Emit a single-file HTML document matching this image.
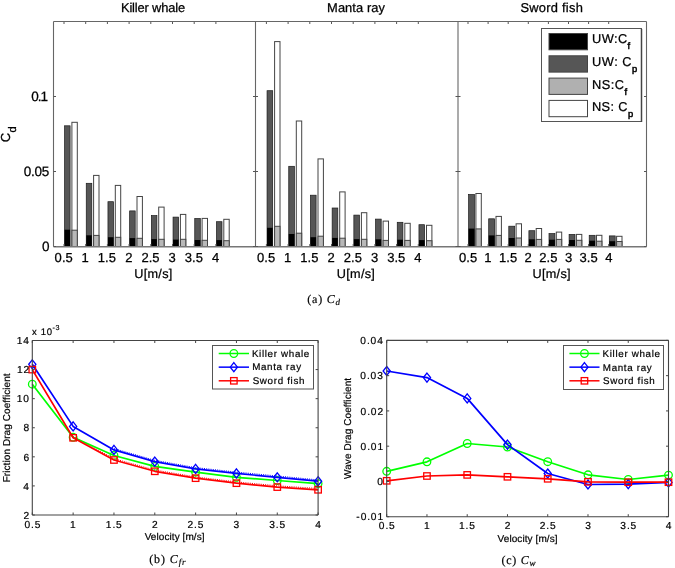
<!DOCTYPE html>
<html><head><meta charset="utf-8"><title>Figure</title>
<style>
html,body{margin:0;padding:0;background:#fff;}
body{width:675px;height:568px;overflow:hidden;font-family:"Liberation Sans", sans-serif;}
svg{display:block;will-change:transform;}
text{text-rendering:geometricPrecision;fill:#000;stroke:#000;stroke-width:0.25px;}
text.s{stroke-width:0.2px;}
text.n{stroke-width:0.18px;}
</style></head>
<body>
<svg width="675" height="568" viewBox="0 0 675 568">
<rect x="0" y="0" width="675" height="568" fill="#fff"/>
<rect x="64.55" y="125.80" width="5.55" height="120.70" fill="#565656" stroke="#1a1a1a" stroke-width="0.7"/>
<rect x="64.55" y="229.70" width="5.55" height="16.80" fill="#000" stroke="none" stroke-width="1"/>
<rect x="71.90" y="122.30" width="5.40" height="124.20" fill="#fff" stroke="#444" stroke-width="1"/>
<rect x="71.90" y="230.20" width="5.40" height="16.30" fill="#b8b8b8" stroke="#444" stroke-width="1"/>
<line x1="64.00" y1="21.50" x2="64.00" y2="24.00" stroke="#555" stroke-width="1" />
<line x1="64.00" y1="246.50" x2="64.00" y2="244.00" stroke="#555" stroke-width="1" />
<g transform="translate(63.725,262.000) scale(1.0000)"><text id="t_ax00" x="0" y="0" font-size="13" text-anchor="middle" font-family='"Liberation Sans", sans-serif' letter-spacing="0.050" >0.5</text></g>
<rect x="86.25" y="183.30" width="5.55" height="63.20" fill="#565656" stroke="#1a1a1a" stroke-width="0.7"/>
<rect x="86.25" y="235.30" width="5.55" height="11.20" fill="#000" stroke="none" stroke-width="1"/>
<rect x="93.60" y="175.40" width="5.40" height="71.10" fill="#fff" stroke="#444" stroke-width="1"/>
<rect x="93.60" y="235.40" width="5.40" height="11.10" fill="#b8b8b8" stroke="#444" stroke-width="1"/>
<line x1="85.70" y1="21.50" x2="85.70" y2="24.00" stroke="#555" stroke-width="1" />
<line x1="85.70" y1="246.50" x2="85.70" y2="244.00" stroke="#555" stroke-width="1" />
<g transform="translate(85.200,262.000) scale(1.0000)"><text id="t_ax01" x="0" y="0" font-size="13" text-anchor="middle" font-family='"Liberation Sans", sans-serif' letter-spacing="0.050" >1</text></g>
<rect x="107.95" y="201.70" width="5.55" height="44.80" fill="#565656" stroke="#1a1a1a" stroke-width="0.7"/>
<rect x="107.95" y="237.20" width="5.55" height="9.30" fill="#000" stroke="none" stroke-width="1"/>
<rect x="115.30" y="185.40" width="5.40" height="61.10" fill="#fff" stroke="#444" stroke-width="1"/>
<rect x="115.30" y="237.30" width="5.40" height="9.20" fill="#b8b8b8" stroke="#444" stroke-width="1"/>
<line x1="107.40" y1="21.50" x2="107.40" y2="24.00" stroke="#555" stroke-width="1" />
<line x1="107.40" y1="246.50" x2="107.40" y2="244.00" stroke="#555" stroke-width="1" />
<g transform="translate(106.925,262.000) scale(1.0000)"><text id="t_ax02" x="0" y="0" font-size="13" text-anchor="middle" font-family='"Liberation Sans", sans-serif' letter-spacing="0.050" >1.5</text></g>
<rect x="129.65" y="210.90" width="5.55" height="35.60" fill="#565656" stroke="#1a1a1a" stroke-width="0.7"/>
<rect x="129.65" y="238.10" width="5.55" height="8.40" fill="#000" stroke="none" stroke-width="1"/>
<rect x="137.00" y="196.50" width="5.40" height="50.00" fill="#fff" stroke="#444" stroke-width="1"/>
<rect x="137.00" y="238.30" width="5.40" height="8.20" fill="#b8b8b8" stroke="#444" stroke-width="1"/>
<line x1="129.10" y1="21.50" x2="129.10" y2="24.00" stroke="#555" stroke-width="1" />
<line x1="129.10" y1="246.50" x2="129.10" y2="244.00" stroke="#555" stroke-width="1" />
<g transform="translate(128.900,262.000) scale(1.0000)"><text id="t_ax03" x="0" y="0" font-size="13" text-anchor="middle" font-family='"Liberation Sans", sans-serif' letter-spacing="0.050" >2</text></g>
<rect x="151.35" y="215.60" width="5.55" height="30.90" fill="#565656" stroke="#1a1a1a" stroke-width="0.7"/>
<rect x="151.35" y="239.10" width="5.55" height="7.40" fill="#000" stroke="none" stroke-width="1"/>
<rect x="158.70" y="207.10" width="5.40" height="39.40" fill="#fff" stroke="#444" stroke-width="1"/>
<rect x="158.70" y="239.30" width="5.40" height="7.20" fill="#b8b8b8" stroke="#444" stroke-width="1"/>
<line x1="150.80" y1="21.50" x2="150.80" y2="24.00" stroke="#555" stroke-width="1" />
<line x1="150.80" y1="246.50" x2="150.80" y2="244.00" stroke="#555" stroke-width="1" />
<g transform="translate(150.500,262.000) scale(1.0000)"><text id="t_ax04" x="0" y="0" font-size="13" text-anchor="middle" font-family='"Liberation Sans", sans-serif' letter-spacing="0.050" >2.5</text></g>
<rect x="173.05" y="217.10" width="5.55" height="29.40" fill="#565656" stroke="#1a1a1a" stroke-width="0.7"/>
<rect x="173.05" y="239.60" width="5.55" height="6.90" fill="#000" stroke="none" stroke-width="1"/>
<rect x="180.40" y="214.40" width="5.40" height="32.10" fill="#fff" stroke="#444" stroke-width="1"/>
<rect x="180.40" y="239.30" width="5.40" height="7.20" fill="#b8b8b8" stroke="#444" stroke-width="1"/>
<line x1="172.50" y1="21.50" x2="172.50" y2="24.00" stroke="#555" stroke-width="1" />
<line x1="172.50" y1="246.50" x2="172.50" y2="244.00" stroke="#555" stroke-width="1" />
<g transform="translate(172.225,262.000) scale(1.0000)"><text id="t_ax05" x="0" y="0" font-size="13" text-anchor="middle" font-family='"Liberation Sans", sans-serif' letter-spacing="0.050" >3</text></g>
<rect x="194.75" y="218.50" width="5.55" height="28.00" fill="#565656" stroke="#1a1a1a" stroke-width="0.7"/>
<rect x="194.75" y="240.00" width="5.55" height="6.50" fill="#000" stroke="none" stroke-width="1"/>
<rect x="202.10" y="218.40" width="5.40" height="28.10" fill="#fff" stroke="#444" stroke-width="1"/>
<rect x="202.10" y="240.30" width="5.40" height="6.20" fill="#b8b8b8" stroke="#444" stroke-width="1"/>
<line x1="194.20" y1="21.50" x2="194.20" y2="24.00" stroke="#555" stroke-width="1" />
<line x1="194.20" y1="246.50" x2="194.20" y2="244.00" stroke="#555" stroke-width="1" />
<g transform="translate(193.950,262.000) scale(1.0000)"><text id="t_ax06" x="0" y="0" font-size="13" text-anchor="middle" font-family='"Liberation Sans", sans-serif' letter-spacing="0.050" >3.5</text></g>
<rect x="216.45" y="221.70" width="5.55" height="24.80" fill="#565656" stroke="#1a1a1a" stroke-width="0.7"/>
<rect x="216.45" y="240.10" width="5.55" height="6.40" fill="#000" stroke="none" stroke-width="1"/>
<rect x="223.80" y="219.30" width="5.40" height="27.20" fill="#fff" stroke="#444" stroke-width="1"/>
<rect x="223.80" y="240.70" width="5.40" height="5.80" fill="#b8b8b8" stroke="#444" stroke-width="1"/>
<line x1="215.90" y1="21.50" x2="215.90" y2="24.00" stroke="#555" stroke-width="1" />
<line x1="215.90" y1="246.50" x2="215.90" y2="244.00" stroke="#555" stroke-width="1" />
<g transform="translate(215.675,262.000) scale(1.0000)"><text id="t_ax07" x="0" y="0" font-size="13" text-anchor="middle" font-family='"Liberation Sans", sans-serif' letter-spacing="0.050" >4</text></g>
<g transform="translate(152.950,11.800) scale(1.0300)"><text id="t_title0" x="0" y="0" font-size="12.5" text-anchor="middle" font-family='"Liberation Sans", sans-serif' letter-spacing="-0.152" >Killer whale</text></g>
<g transform="translate(153.450,278.350) scale(0.9757)"><text id="t_U0" x="0" y="0" font-size="13" text-anchor="middle" font-family='"Liberation Sans", sans-serif' letter-spacing="0.281" >U[m/s]</text></g>
<rect x="267.05" y="90.70" width="5.65" height="155.80" fill="#565656" stroke="#1a1a1a" stroke-width="0.7"/>
<rect x="267.05" y="227.80" width="5.65" height="18.70" fill="#000" stroke="none" stroke-width="1"/>
<rect x="274.60" y="41.60" width="5.40" height="204.90" fill="#fff" stroke="#444" stroke-width="1"/>
<rect x="274.60" y="226.30" width="5.40" height="20.20" fill="#b8b8b8" stroke="#444" stroke-width="1"/>
<line x1="266.40" y1="21.50" x2="266.40" y2="24.00" stroke="#555" stroke-width="1" />
<line x1="266.40" y1="246.50" x2="266.40" y2="244.00" stroke="#555" stroke-width="1" />
<g transform="translate(266.175,262.000) scale(1.0000)"><text id="t_ax10" x="0" y="0" font-size="13" text-anchor="middle" font-family='"Liberation Sans", sans-serif' letter-spacing="0.050" >0.5</text></g>
<rect x="288.75" y="166.30" width="5.65" height="80.20" fill="#565656" stroke="#1a1a1a" stroke-width="0.7"/>
<rect x="288.75" y="234.00" width="5.65" height="12.50" fill="#000" stroke="none" stroke-width="1"/>
<rect x="296.30" y="121.00" width="5.40" height="125.50" fill="#fff" stroke="#444" stroke-width="1"/>
<rect x="296.30" y="233.20" width="5.40" height="13.30" fill="#b8b8b8" stroke="#444" stroke-width="1"/>
<line x1="288.10" y1="21.50" x2="288.10" y2="24.00" stroke="#555" stroke-width="1" />
<line x1="288.10" y1="246.50" x2="288.10" y2="244.00" stroke="#555" stroke-width="1" />
<g transform="translate(287.650,262.000) scale(1.0000)"><text id="t_ax11" x="0" y="0" font-size="13" text-anchor="middle" font-family='"Liberation Sans", sans-serif' letter-spacing="0.050" >1</text></g>
<rect x="310.45" y="195.20" width="5.65" height="51.30" fill="#565656" stroke="#1a1a1a" stroke-width="0.7"/>
<rect x="310.45" y="237.20" width="5.65" height="9.30" fill="#000" stroke="none" stroke-width="1"/>
<rect x="318.00" y="158.90" width="5.40" height="87.60" fill="#fff" stroke="#444" stroke-width="1"/>
<rect x="318.00" y="236.20" width="5.40" height="10.30" fill="#b8b8b8" stroke="#444" stroke-width="1"/>
<line x1="309.80" y1="21.50" x2="309.80" y2="24.00" stroke="#555" stroke-width="1" />
<line x1="309.80" y1="246.50" x2="309.80" y2="244.00" stroke="#555" stroke-width="1" />
<g transform="translate(309.375,262.000) scale(1.0000)"><text id="t_ax12" x="0" y="0" font-size="13" text-anchor="middle" font-family='"Liberation Sans", sans-serif' letter-spacing="0.050" >1.5</text></g>
<rect x="332.15" y="208.00" width="5.65" height="38.50" fill="#565656" stroke="#1a1a1a" stroke-width="0.7"/>
<rect x="332.15" y="237.90" width="5.65" height="8.60" fill="#000" stroke="none" stroke-width="1"/>
<rect x="339.70" y="191.90" width="5.40" height="54.60" fill="#fff" stroke="#444" stroke-width="1"/>
<rect x="339.70" y="238.20" width="5.40" height="8.30" fill="#b8b8b8" stroke="#444" stroke-width="1"/>
<line x1="331.50" y1="21.50" x2="331.50" y2="24.00" stroke="#555" stroke-width="1" />
<line x1="331.50" y1="246.50" x2="331.50" y2="244.00" stroke="#555" stroke-width="1" />
<g transform="translate(331.225,262.000) scale(1.0000)"><text id="t_ax13" x="0" y="0" font-size="13" text-anchor="middle" font-family='"Liberation Sans", sans-serif' letter-spacing="0.050" >2</text></g>
<rect x="353.85" y="215.10" width="5.65" height="31.40" fill="#565656" stroke="#1a1a1a" stroke-width="0.7"/>
<rect x="353.85" y="239.10" width="5.65" height="7.40" fill="#000" stroke="none" stroke-width="1"/>
<rect x="361.40" y="212.70" width="5.40" height="33.80" fill="#fff" stroke="#444" stroke-width="1"/>
<rect x="361.40" y="239.30" width="5.40" height="7.20" fill="#b8b8b8" stroke="#444" stroke-width="1"/>
<line x1="353.20" y1="21.50" x2="353.20" y2="24.00" stroke="#555" stroke-width="1" />
<line x1="353.20" y1="246.50" x2="353.20" y2="244.00" stroke="#555" stroke-width="1" />
<g transform="translate(352.950,262.000) scale(1.0000)"><text id="t_ax14" x="0" y="0" font-size="13" text-anchor="middle" font-family='"Liberation Sans", sans-serif' letter-spacing="0.050" >2.5</text></g>
<rect x="375.55" y="219.10" width="5.65" height="27.40" fill="#565656" stroke="#1a1a1a" stroke-width="0.7"/>
<rect x="375.55" y="239.30" width="5.65" height="7.20" fill="#000" stroke="none" stroke-width="1"/>
<rect x="383.10" y="221.10" width="5.40" height="25.40" fill="#fff" stroke="#444" stroke-width="1"/>
<rect x="383.10" y="240.40" width="5.40" height="6.10" fill="#b8b8b8" stroke="#444" stroke-width="1"/>
<line x1="374.90" y1="21.50" x2="374.90" y2="24.00" stroke="#555" stroke-width="1" />
<line x1="374.90" y1="246.50" x2="374.90" y2="244.00" stroke="#555" stroke-width="1" />
<g transform="translate(374.675,262.000) scale(1.0000)"><text id="t_ax15" x="0" y="0" font-size="13" text-anchor="middle" font-family='"Liberation Sans", sans-serif' letter-spacing="0.050" >3</text></g>
<rect x="397.25" y="222.30" width="5.65" height="24.20" fill="#565656" stroke="#1a1a1a" stroke-width="0.7"/>
<rect x="397.25" y="239.70" width="5.65" height="6.80" fill="#000" stroke="none" stroke-width="1"/>
<rect x="404.80" y="223.30" width="5.40" height="23.20" fill="#fff" stroke="#444" stroke-width="1"/>
<rect x="404.80" y="240.40" width="5.40" height="6.10" fill="#b8b8b8" stroke="#444" stroke-width="1"/>
<line x1="396.60" y1="21.50" x2="396.60" y2="24.00" stroke="#555" stroke-width="1" />
<line x1="396.60" y1="246.50" x2="396.60" y2="244.00" stroke="#555" stroke-width="1" />
<g transform="translate(396.275,262.000) scale(1.0000)"><text id="t_ax16" x="0" y="0" font-size="13" text-anchor="middle" font-family='"Liberation Sans", sans-serif' letter-spacing="0.050" >3.5</text></g>
<rect x="418.95" y="224.70" width="5.65" height="21.80" fill="#565656" stroke="#1a1a1a" stroke-width="0.7"/>
<rect x="418.95" y="240.10" width="5.65" height="6.40" fill="#000" stroke="none" stroke-width="1"/>
<rect x="426.50" y="225.30" width="5.40" height="21.20" fill="#fff" stroke="#444" stroke-width="1"/>
<rect x="426.50" y="240.70" width="5.40" height="5.80" fill="#b8b8b8" stroke="#444" stroke-width="1"/>
<line x1="418.30" y1="21.50" x2="418.30" y2="24.00" stroke="#555" stroke-width="1" />
<line x1="418.30" y1="246.50" x2="418.30" y2="244.00" stroke="#555" stroke-width="1" />
<g transform="translate(418.000,262.000) scale(1.0000)"><text id="t_ax17" x="0" y="0" font-size="13" text-anchor="middle" font-family='"Liberation Sans", sans-serif' letter-spacing="0.050" >4</text></g>
<g transform="translate(356.050,11.650) scale(1.0300)"><text id="t_title1" x="0" y="0" font-size="12.5" text-anchor="middle" font-family='"Liberation Sans", sans-serif' letter-spacing="0.073" >Manta ray</text></g>
<g transform="translate(355.975,278.350) scale(0.9757)"><text id="t_U1" x="0" y="0" font-size="13" text-anchor="middle" font-family='"Liberation Sans", sans-serif' letter-spacing="0.281" >U[m/s]</text></g>
<rect x="468.60" y="194.50" width="5.90" height="52.00" fill="#565656" stroke="#1a1a1a" stroke-width="0.7"/>
<rect x="468.60" y="228.60" width="5.90" height="17.90" fill="#000" stroke="none" stroke-width="1"/>
<rect x="475.90" y="193.50" width="5.40" height="53.00" fill="#fff" stroke="#444" stroke-width="1"/>
<rect x="475.90" y="228.90" width="5.40" height="17.60" fill="#b8b8b8" stroke="#444" stroke-width="1"/>
<line x1="468.00" y1="21.50" x2="468.00" y2="24.00" stroke="#555" stroke-width="1" />
<line x1="468.00" y1="246.50" x2="468.00" y2="244.00" stroke="#555" stroke-width="1" />
<g transform="translate(468.075,262.000) scale(1.0000)"><text id="t_ax20" x="0" y="0" font-size="13" text-anchor="middle" font-family='"Liberation Sans", sans-serif' letter-spacing="0.050" >0.5</text></g>
<rect x="488.70" y="218.80" width="5.90" height="27.70" fill="#565656" stroke="#1a1a1a" stroke-width="0.7"/>
<rect x="488.70" y="235.40" width="5.90" height="11.10" fill="#000" stroke="none" stroke-width="1"/>
<rect x="496.00" y="216.40" width="5.40" height="30.10" fill="#fff" stroke="#444" stroke-width="1"/>
<rect x="496.00" y="235.40" width="5.40" height="11.10" fill="#b8b8b8" stroke="#444" stroke-width="1"/>
<line x1="488.10" y1="21.50" x2="488.10" y2="24.00" stroke="#555" stroke-width="1" />
<line x1="488.10" y1="246.50" x2="488.10" y2="244.00" stroke="#555" stroke-width="1" />
<g transform="translate(488.000,262.000) scale(1.0000)"><text id="t_ax21" x="0" y="0" font-size="13" text-anchor="middle" font-family='"Liberation Sans", sans-serif' letter-spacing="0.050" >1</text></g>
<rect x="508.80" y="226.20" width="5.90" height="20.30" fill="#565656" stroke="#1a1a1a" stroke-width="0.7"/>
<rect x="508.80" y="238.00" width="5.90" height="8.50" fill="#000" stroke="none" stroke-width="1"/>
<rect x="516.10" y="223.80" width="5.40" height="22.70" fill="#fff" stroke="#444" stroke-width="1"/>
<rect x="516.10" y="238.00" width="5.40" height="8.50" fill="#b8b8b8" stroke="#444" stroke-width="1"/>
<line x1="508.20" y1="21.50" x2="508.20" y2="24.00" stroke="#555" stroke-width="1" />
<line x1="508.20" y1="246.50" x2="508.20" y2="244.00" stroke="#555" stroke-width="1" />
<g transform="translate(508.050,262.000) scale(1.0000)"><text id="t_ax22" x="0" y="0" font-size="13" text-anchor="middle" font-family='"Liberation Sans", sans-serif' letter-spacing="0.050" >1.5</text></g>
<rect x="528.90" y="230.70" width="5.90" height="15.80" fill="#565656" stroke="#1a1a1a" stroke-width="0.7"/>
<rect x="528.90" y="239.30" width="5.90" height="7.20" fill="#000" stroke="none" stroke-width="1"/>
<rect x="536.20" y="228.50" width="5.40" height="18.00" fill="#fff" stroke="#444" stroke-width="1"/>
<rect x="536.20" y="239.40" width="5.40" height="7.10" fill="#b8b8b8" stroke="#444" stroke-width="1"/>
<line x1="528.30" y1="21.50" x2="528.30" y2="24.00" stroke="#555" stroke-width="1" />
<line x1="528.30" y1="246.50" x2="528.30" y2="244.00" stroke="#555" stroke-width="1" />
<g transform="translate(528.225,262.000) scale(1.0000)"><text id="t_ax23" x="0" y="0" font-size="13" text-anchor="middle" font-family='"Liberation Sans", sans-serif' letter-spacing="0.050" >2</text></g>
<rect x="549.00" y="233.60" width="5.90" height="12.90" fill="#565656" stroke="#1a1a1a" stroke-width="0.7"/>
<rect x="549.00" y="239.70" width="5.90" height="6.80" fill="#000" stroke="none" stroke-width="1"/>
<rect x="556.30" y="232.10" width="5.40" height="14.40" fill="#fff" stroke="#444" stroke-width="1"/>
<rect x="556.30" y="239.40" width="5.40" height="7.10" fill="#b8b8b8" stroke="#444" stroke-width="1"/>
<line x1="548.40" y1="21.50" x2="548.40" y2="24.00" stroke="#555" stroke-width="1" />
<line x1="548.40" y1="246.50" x2="548.40" y2="244.00" stroke="#555" stroke-width="1" />
<g transform="translate(548.400,262.000) scale(1.0000)"><text id="t_ax24" x="0" y="0" font-size="13" text-anchor="middle" font-family='"Liberation Sans", sans-serif' letter-spacing="0.050" >2.5</text></g>
<rect x="569.10" y="234.40" width="5.90" height="12.10" fill="#565656" stroke="#1a1a1a" stroke-width="0.7"/>
<rect x="569.10" y="240.00" width="5.90" height="6.50" fill="#000" stroke="none" stroke-width="1"/>
<rect x="576.40" y="234.40" width="5.40" height="12.10" fill="#fff" stroke="#444" stroke-width="1"/>
<rect x="576.40" y="240.30" width="5.40" height="6.20" fill="#b8b8b8" stroke="#444" stroke-width="1"/>
<line x1="568.50" y1="21.50" x2="568.50" y2="24.00" stroke="#555" stroke-width="1" />
<line x1="568.50" y1="246.50" x2="568.50" y2="244.00" stroke="#555" stroke-width="1" />
<g transform="translate(568.575,262.000) scale(1.0000)"><text id="t_ax25" x="0" y="0" font-size="13" text-anchor="middle" font-family='"Liberation Sans", sans-serif' letter-spacing="0.050" >3</text></g>
<rect x="589.20" y="235.30" width="5.90" height="11.20" fill="#565656" stroke="#1a1a1a" stroke-width="0.7"/>
<rect x="589.20" y="240.70" width="5.90" height="5.80" fill="#000" stroke="none" stroke-width="1"/>
<rect x="596.50" y="235.30" width="5.40" height="11.20" fill="#fff" stroke="#444" stroke-width="1"/>
<rect x="596.50" y="241.20" width="5.40" height="5.30" fill="#b8b8b8" stroke="#444" stroke-width="1"/>
<line x1="588.60" y1="21.50" x2="588.60" y2="24.00" stroke="#555" stroke-width="1" />
<line x1="588.60" y1="246.50" x2="588.60" y2="244.00" stroke="#555" stroke-width="1" />
<g transform="translate(588.625,262.000) scale(1.0000)"><text id="t_ax26" x="0" y="0" font-size="13" text-anchor="middle" font-family='"Liberation Sans", sans-serif' letter-spacing="0.050" >3.5</text></g>
<rect x="609.30" y="235.90" width="5.90" height="10.60" fill="#565656" stroke="#1a1a1a" stroke-width="0.7"/>
<rect x="609.30" y="241.20" width="5.90" height="5.30" fill="#000" stroke="none" stroke-width="1"/>
<rect x="616.60" y="236.30" width="5.40" height="10.20" fill="#fff" stroke="#444" stroke-width="1"/>
<rect x="616.60" y="241.50" width="5.40" height="5.00" fill="#b8b8b8" stroke="#444" stroke-width="1"/>
<line x1="608.70" y1="21.50" x2="608.70" y2="24.00" stroke="#555" stroke-width="1" />
<line x1="608.70" y1="246.50" x2="608.70" y2="244.00" stroke="#555" stroke-width="1" />
<g transform="translate(608.800,262.000) scale(1.0000)"><text id="t_ax27" x="0" y="0" font-size="13" text-anchor="middle" font-family='"Liberation Sans", sans-serif' letter-spacing="0.050" >4</text></g>
<g transform="translate(551.775,11.800) scale(1.0300)"><text id="t_title2" x="0" y="0" font-size="12.5" text-anchor="middle" font-family='"Liberation Sans", sans-serif' letter-spacing="0.241" >Sword fish</text></g>
<g transform="translate(551.700,278.350) scale(0.9757)"><text id="t_U2" x="0" y="0" font-size="13" text-anchor="middle" font-family='"Liberation Sans", sans-serif' letter-spacing="0.281" >U[m/s]</text></g>
<line x1="53.50" y1="21.50" x2="646.50" y2="21.50" stroke="#666" stroke-width="1.1" />
<line x1="53.50" y1="246.75" x2="646.50" y2="246.75" stroke="#777" stroke-width="1.3" />
<line x1="53.50" y1="21.50" x2="53.50" y2="246.50" stroke="#666" stroke-width="1.1" />
<line x1="255.50" y1="21.50" x2="255.50" y2="246.50" stroke="#666" stroke-width="1.1" />
<line x1="458.00" y1="21.50" x2="458.00" y2="246.50" stroke="#666" stroke-width="1.1" />
<line x1="646.50" y1="21.50" x2="646.50" y2="246.50" stroke="#666" stroke-width="1.1" />
<line x1="53.50" y1="246.50" x2="56.00" y2="246.50" stroke="#555" stroke-width="1" />
<line x1="255.50" y1="246.50" x2="253.00" y2="246.50" stroke="#555" stroke-width="1" />
<line x1="255.50" y1="246.50" x2="258.00" y2="246.50" stroke="#555" stroke-width="1" />
<line x1="458.00" y1="246.50" x2="455.50" y2="246.50" stroke="#555" stroke-width="1" />
<line x1="458.00" y1="246.50" x2="460.50" y2="246.50" stroke="#555" stroke-width="1" />
<line x1="646.50" y1="246.50" x2="644.00" y2="246.50" stroke="#555" stroke-width="1" />
<g transform="translate(49.450,251.300) scale(1.0400)"><text id="t_ay0" x="0" y="0" font-size="13" text-anchor="end" font-family='"Liberation Sans", sans-serif' >0</text></g>
<line x1="53.50" y1="171.50" x2="56.00" y2="171.50" stroke="#555" stroke-width="1" />
<line x1="255.50" y1="171.50" x2="253.00" y2="171.50" stroke="#555" stroke-width="1" />
<line x1="255.50" y1="171.50" x2="258.00" y2="171.50" stroke="#555" stroke-width="1" />
<line x1="458.00" y1="171.50" x2="455.50" y2="171.50" stroke="#555" stroke-width="1" />
<line x1="458.00" y1="171.50" x2="460.50" y2="171.50" stroke="#555" stroke-width="1" />
<line x1="646.50" y1="171.50" x2="644.00" y2="171.50" stroke="#555" stroke-width="1" />
<g transform="translate(49.175,175.650) scale(1.0400)"><text id="t_ay1" x="0" y="0" font-size="13" text-anchor="end" font-family='"Liberation Sans", sans-serif' letter-spacing="-0.218" >0.05</text></g>
<line x1="53.50" y1="96.50" x2="56.00" y2="96.50" stroke="#555" stroke-width="1" />
<line x1="255.50" y1="96.50" x2="253.00" y2="96.50" stroke="#555" stroke-width="1" />
<line x1="255.50" y1="96.50" x2="258.00" y2="96.50" stroke="#555" stroke-width="1" />
<line x1="458.00" y1="96.50" x2="455.50" y2="96.50" stroke="#555" stroke-width="1" />
<line x1="458.00" y1="96.50" x2="460.50" y2="96.50" stroke="#555" stroke-width="1" />
<line x1="646.50" y1="96.50" x2="644.00" y2="96.50" stroke="#555" stroke-width="1" />
<g transform="translate(46.950,101.250) scale(1.0400)"><text id="t_ay2" x="0" y="0" font-size="13" text-anchor="end" font-family='"Liberation Sans", sans-serif' letter-spacing="-1.005" >0.1</text></g>
<g transform="translate(10.300,142.225) scale(1.0066) rotate(-90)"><text id="t_Cd" x="0" y="0" font-size="13" text-anchor="start" font-family='"Liberation Sans", sans-serif' letter-spacing="0.253" >C<tspan font-size="11" dy="5.7">d</tspan></text></g>
<rect x="541.50" y="28.50" width="100.00" height="93.00" fill="#fff" stroke="#555" stroke-width="1"/>
<line x1="641.50" y1="29.00" x2="641.50" y2="122.00" stroke="#444" stroke-width="1.5" />
<rect x="549.00" y="33.50" width="38.50" height="16.30" fill="#000" stroke="#444" stroke-width="1"/>
<g transform="translate(592.075,43.250) scale(0.9850)"><text id="t_leg0" x="0" y="0" font-size="13" text-anchor="start" font-family='"Liberation Sans", sans-serif' letter-spacing="0.405" >UW:C<tspan font-size="9.5" dy="6" stroke-width="0.5">f</tspan></text></g>
<rect x="549.00" y="55.80" width="38.50" height="16.30" fill="#565656" stroke="#444" stroke-width="1"/>
<g transform="translate(592.025,65.700) scale(0.9850)"><text id="t_leg1" x="0" y="0" font-size="13" text-anchor="start" font-family='"Liberation Sans", sans-serif' letter-spacing="0.524" >UW: C<tspan font-size="9.5" dy="6" stroke-width="0.5">p</tspan></text></g>
<rect x="549.00" y="78.10" width="38.50" height="16.30" fill="#b0b0b0" stroke="#444" stroke-width="1"/>
<g transform="translate(592.000,88.750) scale(0.9850)"><text id="t_leg2" x="0" y="0" font-size="13" text-anchor="start" font-family='"Liberation Sans", sans-serif' letter-spacing="0.480" >NS:C<tspan font-size="9.5" dy="6" stroke-width="0.5">f</tspan></text></g>
<rect x="549.00" y="100.40" width="38.50" height="16.30" fill="#fff" stroke="#444" stroke-width="1"/>
<g transform="translate(591.950,110.850) scale(0.9850)"><text id="t_leg3" x="0" y="0" font-size="13" text-anchor="start" font-family='"Liberation Sans", sans-serif' letter-spacing="0.382" >NS: C<tspan font-size="9.5" dy="6" stroke-width="0.5">p</tspan></text></g>
<g transform="translate(307.300,303.300) scale(1.0000)"><text id="t_capa" x="0" y="0" font-size="12" text-anchor="start" font-family='"Liberation Serif", serif' letter-spacing="0.775" class="n">(a)  <tspan font-style="italic">C</tspan><tspan font-style="italic" font-size="9" dy="2">d</tspan></text></g>
<polyline points="73.13,436.50 113.96,458.70 154.79,470.00 195.61,476.90 236.44,481.90 277.27,485.80 318.10,488.50" fill="none" stroke="#ff0000" stroke-width="1" stroke-dasharray="1 1.2"/>
<polyline points="113.96,448.60 154.79,460.30 195.61,467.60 236.44,472.10 277.27,476.00 318.10,479.90" fill="none" stroke="#0000ff" stroke-width="1" stroke-dasharray="1 1.2"/>
<polyline points="32.30,384.20 73.13,437.30 113.96,455.50 154.79,466.40 195.61,472.20 236.44,477.30 277.27,480.50 318.10,483.60" fill="none" stroke="#00ff00" stroke-width="1.7" stroke-linejoin="round"/>
<circle cx="32.30" cy="384.20" r="3.8" fill="none" stroke="#00ff00" stroke-width="1.3"/>
<circle cx="73.13" cy="437.30" r="3.8" fill="none" stroke="#00ff00" stroke-width="1.3"/>
<circle cx="113.96" cy="455.50" r="3.8" fill="none" stroke="#00ff00" stroke-width="1.3"/>
<circle cx="154.79" cy="466.40" r="3.8" fill="none" stroke="#00ff00" stroke-width="1.3"/>
<circle cx="195.61" cy="472.20" r="3.8" fill="none" stroke="#00ff00" stroke-width="1.3"/>
<circle cx="236.44" cy="477.30" r="3.8" fill="none" stroke="#00ff00" stroke-width="1.3"/>
<circle cx="277.27" cy="480.50" r="3.8" fill="none" stroke="#00ff00" stroke-width="1.3"/>
<circle cx="318.10" cy="483.60" r="3.8" fill="none" stroke="#00ff00" stroke-width="1.3"/>
<polyline points="32.30,364.30 73.13,426.40 113.96,449.90 154.79,461.60 195.61,468.90 236.44,473.40 277.27,477.30 318.10,481.20" fill="none" stroke="#0000ff" stroke-width="1.7" stroke-linejoin="round"/>
<path d="M32.30 359.80 L35.90 364.30 L32.30 368.80 L28.70 364.30 Z" fill="none" stroke="#0000ff" stroke-width="1.3"/>
<path d="M73.13 421.90 L76.73 426.40 L73.13 430.90 L69.53 426.40 Z" fill="none" stroke="#0000ff" stroke-width="1.3"/>
<path d="M113.96 445.40 L117.56 449.90 L113.96 454.40 L110.36 449.90 Z" fill="none" stroke="#0000ff" stroke-width="1.3"/>
<path d="M154.79 457.10 L158.39 461.60 L154.79 466.10 L151.19 461.60 Z" fill="none" stroke="#0000ff" stroke-width="1.3"/>
<path d="M195.61 464.40 L199.21 468.90 L195.61 473.40 L192.01 468.90 Z" fill="none" stroke="#0000ff" stroke-width="1.3"/>
<path d="M236.44 468.90 L240.04 473.40 L236.44 477.90 L232.84 473.40 Z" fill="none" stroke="#0000ff" stroke-width="1.3"/>
<path d="M277.27 472.80 L280.87 477.30 L277.27 481.80 L273.67 477.30 Z" fill="none" stroke="#0000ff" stroke-width="1.3"/>
<path d="M318.10 476.70 L321.70 481.20 L318.10 485.70 L314.50 481.20 Z" fill="none" stroke="#0000ff" stroke-width="1.3"/>
<polyline points="32.30,369.60 73.13,437.80 113.96,460.00 154.79,471.30 195.61,478.20 236.44,483.20 277.27,487.10 318.10,489.80" fill="none" stroke="#ff0000" stroke-width="1.7" stroke-linejoin="round"/>
<rect x="29.05" y="366.40" width="6.5" height="6.4" fill="none" stroke="#ff0000" stroke-width="1.3"/>
<rect x="69.88" y="434.60" width="6.5" height="6.4" fill="none" stroke="#ff0000" stroke-width="1.3"/>
<rect x="110.71" y="456.80" width="6.5" height="6.4" fill="none" stroke="#ff0000" stroke-width="1.3"/>
<rect x="151.54" y="468.10" width="6.5" height="6.4" fill="none" stroke="#ff0000" stroke-width="1.3"/>
<rect x="192.36" y="475.00" width="6.5" height="6.4" fill="none" stroke="#ff0000" stroke-width="1.3"/>
<rect x="233.19" y="480.00" width="6.5" height="6.4" fill="none" stroke="#ff0000" stroke-width="1.3"/>
<rect x="274.02" y="483.90" width="6.5" height="6.4" fill="none" stroke="#ff0000" stroke-width="1.3"/>
<rect x="314.85" y="486.60" width="6.5" height="6.4" fill="none" stroke="#ff0000" stroke-width="1.3"/>
<line x1="32.30" y1="515.00" x2="32.30" y2="512.50" stroke="#444" stroke-width="1" />
<line x1="32.30" y1="340.50" x2="32.30" y2="343.00" stroke="#444" stroke-width="1" />
<line x1="73.13" y1="515.00" x2="73.13" y2="512.50" stroke="#444" stroke-width="1" />
<line x1="73.13" y1="340.50" x2="73.13" y2="343.00" stroke="#444" stroke-width="1" />
<line x1="113.96" y1="515.00" x2="113.96" y2="512.50" stroke="#444" stroke-width="1" />
<line x1="113.96" y1="340.50" x2="113.96" y2="343.00" stroke="#444" stroke-width="1" />
<line x1="154.79" y1="515.00" x2="154.79" y2="512.50" stroke="#444" stroke-width="1" />
<line x1="154.79" y1="340.50" x2="154.79" y2="343.00" stroke="#444" stroke-width="1" />
<line x1="195.61" y1="515.00" x2="195.61" y2="512.50" stroke="#444" stroke-width="1" />
<line x1="195.61" y1="340.50" x2="195.61" y2="343.00" stroke="#444" stroke-width="1" />
<line x1="236.44" y1="515.00" x2="236.44" y2="512.50" stroke="#444" stroke-width="1" />
<line x1="236.44" y1="340.50" x2="236.44" y2="343.00" stroke="#444" stroke-width="1" />
<line x1="277.27" y1="515.00" x2="277.27" y2="512.50" stroke="#444" stroke-width="1" />
<line x1="277.27" y1="340.50" x2="277.27" y2="343.00" stroke="#444" stroke-width="1" />
<line x1="318.10" y1="515.00" x2="318.10" y2="512.50" stroke="#444" stroke-width="1" />
<line x1="318.10" y1="340.50" x2="318.10" y2="343.00" stroke="#444" stroke-width="1" />
<line x1="32.30" y1="515.00" x2="34.80" y2="515.00" stroke="#444" stroke-width="1" />
<line x1="318.10" y1="515.00" x2="315.60" y2="515.00" stroke="#444" stroke-width="1" />
<line x1="32.30" y1="485.92" x2="34.80" y2="485.92" stroke="#444" stroke-width="1" />
<line x1="318.10" y1="485.92" x2="315.60" y2="485.92" stroke="#444" stroke-width="1" />
<line x1="32.30" y1="456.83" x2="34.80" y2="456.83" stroke="#444" stroke-width="1" />
<line x1="318.10" y1="456.83" x2="315.60" y2="456.83" stroke="#444" stroke-width="1" />
<line x1="32.30" y1="427.75" x2="34.80" y2="427.75" stroke="#444" stroke-width="1" />
<line x1="318.10" y1="427.75" x2="315.60" y2="427.75" stroke="#444" stroke-width="1" />
<line x1="32.30" y1="398.67" x2="34.80" y2="398.67" stroke="#444" stroke-width="1" />
<line x1="318.10" y1="398.67" x2="315.60" y2="398.67" stroke="#444" stroke-width="1" />
<line x1="32.30" y1="369.58" x2="34.80" y2="369.58" stroke="#444" stroke-width="1" />
<line x1="318.10" y1="369.58" x2="315.60" y2="369.58" stroke="#444" stroke-width="1" />
<line x1="32.30" y1="340.50" x2="34.80" y2="340.50" stroke="#444" stroke-width="1" />
<line x1="318.10" y1="340.50" x2="315.60" y2="340.50" stroke="#444" stroke-width="1" />
<line x1="32.30" y1="340.50" x2="318.10" y2="340.50" stroke="#444" stroke-width="1.1" />
<line x1="32.30" y1="515.00" x2="318.10" y2="515.00" stroke="#444" stroke-width="1.1" />
<line x1="32.30" y1="340.50" x2="32.30" y2="515.00" stroke="#444" stroke-width="1.1" />
<line x1="318.10" y1="340.50" x2="318.10" y2="515.00" stroke="#444" stroke-width="1.1" />
<g transform="translate(32.775,527.650) scale(1.0200)"><text id="t_bx0" x="0" y="0" font-size="10" text-anchor="middle" font-family='"Liberation Sans", sans-serif' letter-spacing="0.850" class="s">0.5</text></g>
<g transform="translate(73.386,527.650) scale(1.0200)"><text id="t_bx1" x="0" y="0" font-size="10" text-anchor="middle" font-family='"Liberation Sans", sans-serif' letter-spacing="0.850" class="s">1</text></g>
<g transform="translate(114.246,527.650) scale(1.0200)"><text id="t_bx2" x="0" y="0" font-size="10" text-anchor="middle" font-family='"Liberation Sans", sans-serif' letter-spacing="0.850" class="s">1.5</text></g>
<g transform="translate(155.232,527.650) scale(1.0200)"><text id="t_bx3" x="0" y="0" font-size="10" text-anchor="middle" font-family='"Liberation Sans", sans-serif' letter-spacing="0.850" class="s">2</text></g>
<g transform="translate(195.968,527.650) scale(1.0200)"><text id="t_bx4" x="0" y="0" font-size="10" text-anchor="middle" font-family='"Liberation Sans", sans-serif' letter-spacing="0.850" class="s">2.5</text></g>
<g transform="translate(236.829,527.650) scale(1.0200)"><text id="t_bx5" x="0" y="0" font-size="10" text-anchor="middle" font-family='"Liberation Sans", sans-serif' letter-spacing="0.850" class="s">3</text></g>
<g transform="translate(277.689,527.650) scale(1.0200)"><text id="t_bx6" x="0" y="0" font-size="10" text-anchor="middle" font-family='"Liberation Sans", sans-serif' letter-spacing="0.850" class="s">3.5</text></g>
<g transform="translate(318.550,527.650) scale(1.0200)"><text id="t_bx7" x="0" y="0" font-size="10" text-anchor="middle" font-family='"Liberation Sans", sans-serif' letter-spacing="0.850" class="s">4</text></g>
<g transform="translate(30.100,518.800) scale(1.0200)"><text id="t_by2" x="0" y="0" font-size="10" text-anchor="end" font-family='"Liberation Sans", sans-serif' letter-spacing="0.850" class="s">2</text></g>
<g transform="translate(29.850,489.550) scale(1.0200)"><text id="t_by4" x="0" y="0" font-size="10" text-anchor="end" font-family='"Liberation Sans", sans-serif' letter-spacing="0.850" class="s">4</text></g>
<g transform="translate(30.100,460.550) scale(1.0200)"><text id="t_by6" x="0" y="0" font-size="10" text-anchor="end" font-family='"Liberation Sans", sans-serif' letter-spacing="0.850" class="s">6</text></g>
<g transform="translate(30.100,431.300) scale(1.0200)"><text id="t_by8" x="0" y="0" font-size="10" text-anchor="end" font-family='"Liberation Sans", sans-serif' letter-spacing="0.850" class="s">8</text></g>
<g transform="translate(29.850,402.300) scale(1.0200)"><text id="t_by10" x="0" y="0" font-size="10" text-anchor="end" font-family='"Liberation Sans", sans-serif' letter-spacing="0.850" class="s">10</text></g>
<g transform="translate(30.100,373.300) scale(1.0200)"><text id="t_by12" x="0" y="0" font-size="10" text-anchor="end" font-family='"Liberation Sans", sans-serif' letter-spacing="0.850" class="s">12</text></g>
<g transform="translate(29.850,344.050) scale(1.0200)"><text id="t_by14" x="0" y="0" font-size="10" text-anchor="end" font-family='"Liberation Sans", sans-serif' letter-spacing="0.850" class="s">14</text></g>
<g transform="translate(32.075,335.475) scale(0.9523)"><text id="t_bexp" x="0" y="0" font-size="10" text-anchor="start" font-family='"Liberation Sans", sans-serif' letter-spacing="0.662" class="s">x 10<tspan font-size="7.5" dy="-6">-3</tspan></text></g>
<g transform="translate(174.650,540.450) scale(1.0000)"><text id="t_bxl" x="0" y="0" font-size="10" text-anchor="middle" font-family='"Liberation Sans", sans-serif' letter-spacing="0.080" class="s">Velocity [m/s]</text></g>
<g transform="translate(9.800,427.825) scale(1.0000) rotate(-90)"><text id="t_byl" x="0" y="0" font-size="10" text-anchor="middle" font-family='"Liberation Sans", sans-serif' letter-spacing="0.080" class="s">Friction Drag Coefficient</text></g>
<rect x="212.50" y="345.50" width="101.00" height="43.50" fill="#fff" stroke="#555" stroke-width="1"/>
<line x1="218.70" y1="353.50" x2="249.00" y2="353.50" stroke="#00ff00" stroke-width="1.5" />
<circle cx="233.85" cy="353.50" r="3.8" fill="none" stroke="#00ff00" stroke-width="1.3"/>
<g transform="translate(251.875,357.000) scale(0.9800)"><text id="t_bleg0" x="0" y="0" font-size="10" text-anchor="start" font-family='"Liberation Sans", sans-serif' letter-spacing="0.680" class="s">Killer whale</text></g>
<line x1="218.70" y1="367.15" x2="249.00" y2="367.15" stroke="#0000ff" stroke-width="1.5" />
<path d="M233.85 362.65 L237.45 367.15 L233.85 371.65 L230.25 367.15 Z" fill="none" stroke="#0000ff" stroke-width="1.3"/>
<g transform="translate(252.150,370.250) scale(0.9800)"><text id="t_bleg1" x="0" y="0" font-size="10" text-anchor="start" font-family='"Liberation Sans", sans-serif' letter-spacing="0.680" class="s">Manta ray</text></g>
<line x1="218.70" y1="380.80" x2="249.00" y2="380.80" stroke="#ff0000" stroke-width="1.5" />
<rect x="230.60" y="377.60" width="6.5" height="6.4" fill="none" stroke="#ff0000" stroke-width="1.3"/>
<g transform="translate(252.650,383.800) scale(0.9800)"><text id="t_bleg2" x="0" y="0" font-size="10" text-anchor="start" font-family='"Liberation Sans", sans-serif' letter-spacing="0.680" class="s">Sword fish</text></g>
<g transform="translate(149.125,562.750) scale(1.0000)"><text id="t_capb" x="0" y="0" font-size="12" text-anchor="start" font-family='"Liberation Serif", serif' letter-spacing="0.900" class="n">(b)  <tspan font-style="italic">C</tspan><tspan font-style="italic" font-size="9" dy="2">fr</tspan></text></g>
<polyline points="386.70,471.30 426.96,461.80 467.21,443.50 507.47,447.00 547.73,461.70 587.99,474.80 628.24,479.50 668.50,475.10" fill="none" stroke="#00ff00" stroke-width="1.7" stroke-linejoin="round"/>
<circle cx="386.70" cy="471.30" r="3.8" fill="none" stroke="#00ff00" stroke-width="1.3"/>
<circle cx="426.96" cy="461.80" r="3.8" fill="none" stroke="#00ff00" stroke-width="1.3"/>
<circle cx="467.21" cy="443.50" r="3.8" fill="none" stroke="#00ff00" stroke-width="1.3"/>
<circle cx="507.47" cy="447.00" r="3.8" fill="none" stroke="#00ff00" stroke-width="1.3"/>
<circle cx="547.73" cy="461.70" r="3.8" fill="none" stroke="#00ff00" stroke-width="1.3"/>
<circle cx="587.99" cy="474.80" r="3.8" fill="none" stroke="#00ff00" stroke-width="1.3"/>
<circle cx="628.24" cy="479.50" r="3.8" fill="none" stroke="#00ff00" stroke-width="1.3"/>
<circle cx="668.50" cy="475.10" r="3.8" fill="none" stroke="#00ff00" stroke-width="1.3"/>
<polyline points="386.70,371.00 426.96,377.60 467.21,398.40 507.47,444.60 547.73,473.50 587.99,484.50 628.24,484.10 668.50,482.40" fill="none" stroke="#0000ff" stroke-width="1.7" stroke-linejoin="round"/>
<path d="M386.70 366.50 L390.30 371.00 L386.70 375.50 L383.10 371.00 Z" fill="none" stroke="#0000ff" stroke-width="1.3"/>
<path d="M426.96 373.10 L430.56 377.60 L426.96 382.10 L423.36 377.60 Z" fill="none" stroke="#0000ff" stroke-width="1.3"/>
<path d="M467.21 393.90 L470.81 398.40 L467.21 402.90 L463.61 398.40 Z" fill="none" stroke="#0000ff" stroke-width="1.3"/>
<path d="M507.47 440.10 L511.07 444.60 L507.47 449.10 L503.87 444.60 Z" fill="none" stroke="#0000ff" stroke-width="1.3"/>
<path d="M547.73 469.00 L551.33 473.50 L547.73 478.00 L544.13 473.50 Z" fill="none" stroke="#0000ff" stroke-width="1.3"/>
<path d="M587.99 480.00 L591.59 484.50 L587.99 489.00 L584.39 484.50 Z" fill="none" stroke="#0000ff" stroke-width="1.3"/>
<path d="M628.24 479.60 L631.84 484.10 L628.24 488.60 L624.64 484.10 Z" fill="none" stroke="#0000ff" stroke-width="1.3"/>
<path d="M668.50 477.90 L672.10 482.40 L668.50 486.90 L664.90 482.40 Z" fill="none" stroke="#0000ff" stroke-width="1.3"/>
<polyline points="386.70,480.80 426.96,476.00 467.21,474.90 507.47,476.80 547.73,478.80 587.99,481.80 628.24,482.20 668.50,482.20" fill="none" stroke="#ff0000" stroke-width="1.7" stroke-linejoin="round"/>
<rect x="383.45" y="477.60" width="6.5" height="6.4" fill="none" stroke="#ff0000" stroke-width="1.3"/>
<rect x="423.71" y="472.80" width="6.5" height="6.4" fill="none" stroke="#ff0000" stroke-width="1.3"/>
<rect x="463.96" y="471.70" width="6.5" height="6.4" fill="none" stroke="#ff0000" stroke-width="1.3"/>
<rect x="504.22" y="473.60" width="6.5" height="6.4" fill="none" stroke="#ff0000" stroke-width="1.3"/>
<rect x="544.48" y="475.60" width="6.5" height="6.4" fill="none" stroke="#ff0000" stroke-width="1.3"/>
<rect x="584.74" y="478.60" width="6.5" height="6.4" fill="none" stroke="#ff0000" stroke-width="1.3"/>
<rect x="624.99" y="479.00" width="6.5" height="6.4" fill="none" stroke="#ff0000" stroke-width="1.3"/>
<rect x="665.25" y="479.00" width="6.5" height="6.4" fill="none" stroke="#ff0000" stroke-width="1.3"/>
<line x1="386.70" y1="516.70" x2="386.70" y2="514.20" stroke="#444" stroke-width="1" />
<line x1="386.70" y1="340.40" x2="386.70" y2="342.90" stroke="#444" stroke-width="1" />
<line x1="426.96" y1="516.70" x2="426.96" y2="514.20" stroke="#444" stroke-width="1" />
<line x1="426.96" y1="340.40" x2="426.96" y2="342.90" stroke="#444" stroke-width="1" />
<line x1="467.21" y1="516.70" x2="467.21" y2="514.20" stroke="#444" stroke-width="1" />
<line x1="467.21" y1="340.40" x2="467.21" y2="342.90" stroke="#444" stroke-width="1" />
<line x1="507.47" y1="516.70" x2="507.47" y2="514.20" stroke="#444" stroke-width="1" />
<line x1="507.47" y1="340.40" x2="507.47" y2="342.90" stroke="#444" stroke-width="1" />
<line x1="547.73" y1="516.70" x2="547.73" y2="514.20" stroke="#444" stroke-width="1" />
<line x1="547.73" y1="340.40" x2="547.73" y2="342.90" stroke="#444" stroke-width="1" />
<line x1="587.99" y1="516.70" x2="587.99" y2="514.20" stroke="#444" stroke-width="1" />
<line x1="587.99" y1="340.40" x2="587.99" y2="342.90" stroke="#444" stroke-width="1" />
<line x1="628.24" y1="516.70" x2="628.24" y2="514.20" stroke="#444" stroke-width="1" />
<line x1="628.24" y1="340.40" x2="628.24" y2="342.90" stroke="#444" stroke-width="1" />
<line x1="668.50" y1="516.70" x2="668.50" y2="514.20" stroke="#444" stroke-width="1" />
<line x1="668.50" y1="340.40" x2="668.50" y2="342.90" stroke="#444" stroke-width="1" />
<line x1="386.70" y1="516.70" x2="389.20" y2="516.70" stroke="#444" stroke-width="1" />
<line x1="668.50" y1="516.70" x2="666.00" y2="516.70" stroke="#444" stroke-width="1" />
<line x1="386.70" y1="481.44" x2="389.20" y2="481.44" stroke="#444" stroke-width="1" />
<line x1="668.50" y1="481.44" x2="666.00" y2="481.44" stroke="#444" stroke-width="1" />
<line x1="386.70" y1="446.18" x2="389.20" y2="446.18" stroke="#444" stroke-width="1" />
<line x1="668.50" y1="446.18" x2="666.00" y2="446.18" stroke="#444" stroke-width="1" />
<line x1="386.70" y1="410.92" x2="389.20" y2="410.92" stroke="#444" stroke-width="1" />
<line x1="668.50" y1="410.92" x2="666.00" y2="410.92" stroke="#444" stroke-width="1" />
<line x1="386.70" y1="375.66" x2="389.20" y2="375.66" stroke="#444" stroke-width="1" />
<line x1="668.50" y1="375.66" x2="666.00" y2="375.66" stroke="#444" stroke-width="1" />
<line x1="386.70" y1="340.40" x2="389.20" y2="340.40" stroke="#444" stroke-width="1" />
<line x1="668.50" y1="340.40" x2="666.00" y2="340.40" stroke="#444" stroke-width="1" />
<line x1="386.70" y1="340.40" x2="668.50" y2="340.40" stroke="#444" stroke-width="1.1" />
<line x1="386.70" y1="516.70" x2="668.50" y2="516.70" stroke="#444" stroke-width="1.1" />
<line x1="386.70" y1="340.40" x2="386.70" y2="516.70" stroke="#444" stroke-width="1.1" />
<line x1="668.50" y1="340.40" x2="668.50" y2="516.70" stroke="#444" stroke-width="1.1" />
<g transform="translate(387.225,529.350) scale(1.0200)"><text id="t_cx0" x="0" y="0" font-size="10" text-anchor="middle" font-family='"Liberation Sans", sans-serif' letter-spacing="0.850" class="s">0.5</text></g>
<g transform="translate(427.246,529.350) scale(1.0200)"><text id="t_cx1" x="0" y="0" font-size="10" text-anchor="middle" font-family='"Liberation Sans", sans-serif' letter-spacing="0.850" class="s">1</text></g>
<g transform="translate(467.393,529.350) scale(1.0200)"><text id="t_cx2" x="0" y="0" font-size="10" text-anchor="middle" font-family='"Liberation Sans", sans-serif' letter-spacing="0.850" class="s">1.5</text></g>
<g transform="translate(507.914,529.350) scale(1.0200)"><text id="t_cx3" x="0" y="0" font-size="10" text-anchor="middle" font-family='"Liberation Sans", sans-serif' letter-spacing="0.850" class="s">2</text></g>
<g transform="translate(548.186,529.350) scale(1.0200)"><text id="t_cx4" x="0" y="0" font-size="10" text-anchor="middle" font-family='"Liberation Sans", sans-serif' letter-spacing="0.850" class="s">2.5</text></g>
<g transform="translate(588.457,529.350) scale(1.0200)"><text id="t_cx5" x="0" y="0" font-size="10" text-anchor="middle" font-family='"Liberation Sans", sans-serif' letter-spacing="0.850" class="s">3</text></g>
<g transform="translate(628.729,529.350) scale(1.0200)"><text id="t_cx6" x="0" y="0" font-size="10" text-anchor="middle" font-family='"Liberation Sans", sans-serif' letter-spacing="0.850" class="s">3.5</text></g>
<g transform="translate(669.000,529.350) scale(1.0200)"><text id="t_cx7" x="0" y="0" font-size="10" text-anchor="middle" font-family='"Liberation Sans", sans-serif' letter-spacing="0.850" class="s">4</text></g>
<g transform="translate(383.950,520.350) scale(1.0200)"><text id="t_cy0" x="0" y="0" font-size="10" text-anchor="end" font-family='"Liberation Sans", sans-serif' letter-spacing="0.850" class="s">-0.01</text></g>
<g transform="translate(383.700,485.070) scale(1.0200)"><text id="t_cy1" x="0" y="0" font-size="10" text-anchor="end" font-family='"Liberation Sans", sans-serif' letter-spacing="0.850" class="s">0</text></g>
<g transform="translate(383.950,449.790) scale(1.0200)"><text id="t_cy2" x="0" y="0" font-size="10" text-anchor="end" font-family='"Liberation Sans", sans-serif' letter-spacing="0.850" class="s">0.01</text></g>
<g transform="translate(383.950,414.510) scale(1.0200)"><text id="t_cy3" x="0" y="0" font-size="10" text-anchor="end" font-family='"Liberation Sans", sans-serif' letter-spacing="0.850" class="s">0.02</text></g>
<g transform="translate(383.700,379.480) scale(1.0200)"><text id="t_cy4" x="0" y="0" font-size="10" text-anchor="end" font-family='"Liberation Sans", sans-serif' letter-spacing="0.850" class="s">0.03</text></g>
<g transform="translate(383.700,344.200) scale(1.0200)"><text id="t_cy5" x="0" y="0" font-size="10" text-anchor="end" font-family='"Liberation Sans", sans-serif' letter-spacing="0.850" class="s">0.04</text></g>
<g transform="translate(527.600,542.450) scale(1.0000)"><text id="t_cxl" x="0" y="0" font-size="10" text-anchor="middle" font-family='"Liberation Sans", sans-serif' letter-spacing="0.080" class="s">Velocity [m/s]</text></g>
<g transform="translate(351.400,428.400) scale(1.0000) rotate(-90)"><text id="t_cyl" x="0" y="0" font-size="10" text-anchor="middle" font-family='"Liberation Sans", sans-serif' letter-spacing="0.080" class="s">Wave Drag Coefficient</text></g>
<rect x="563.50" y="345.50" width="100.00" height="44.00" fill="#fff" stroke="#555" stroke-width="1"/>
<line x1="569.40" y1="353.50" x2="599.50" y2="353.50" stroke="#00ff00" stroke-width="1.5" />
<circle cx="584.45" cy="353.50" r="3.8" fill="none" stroke="#00ff00" stroke-width="1.3"/>
<g transform="translate(602.550,357.350) scale(0.9800)"><text id="t_cleg0" x="0" y="0" font-size="10" text-anchor="start" font-family='"Liberation Sans", sans-serif' letter-spacing="0.680" class="s">Killer whale</text></g>
<line x1="569.40" y1="367.15" x2="599.50" y2="367.15" stroke="#0000ff" stroke-width="1.5" />
<path d="M584.45 362.65 L588.05 367.15 L584.45 371.65 L580.85 367.15 Z" fill="none" stroke="#0000ff" stroke-width="1.3"/>
<g transform="translate(602.800,370.650) scale(0.9800)"><text id="t_cleg1" x="0" y="0" font-size="10" text-anchor="start" font-family='"Liberation Sans", sans-serif' letter-spacing="0.680" class="s">Manta ray</text></g>
<line x1="569.40" y1="380.80" x2="599.50" y2="380.80" stroke="#ff0000" stroke-width="1.5" />
<rect x="581.20" y="377.60" width="6.5" height="6.4" fill="none" stroke="#ff0000" stroke-width="1.3"/>
<g transform="translate(603.075,384.400) scale(0.9800)"><text id="t_cleg2" x="0" y="0" font-size="10" text-anchor="start" font-family='"Liberation Sans", sans-serif' letter-spacing="0.680" class="s">Sword fish</text></g>
<g transform="translate(501.600,564.100) scale(1.0000)"><text id="t_capc" x="0" y="0" font-size="12" text-anchor="start" font-family='"Liberation Serif", serif' letter-spacing="0.717" class="n">(c)  <tspan font-style="italic">C</tspan><tspan font-style="italic" font-size="9" dy="2">w</tspan></text></g>
</svg>
</body></html>
